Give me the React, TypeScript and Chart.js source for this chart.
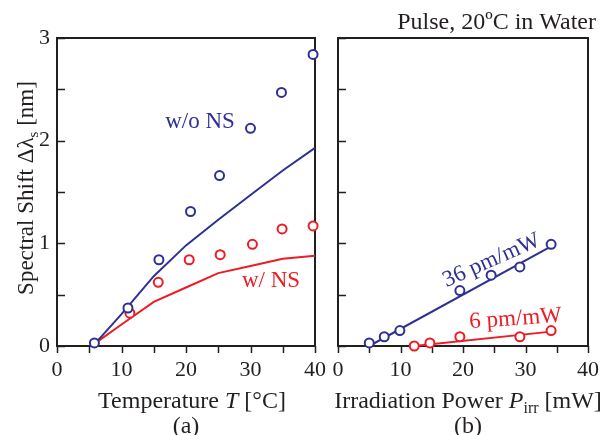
import React, { useEffect, useRef } from 'react';
import { Chart, registerables } from 'chart.js';

Chart.register(...registerables);

const BLUE = '#2E3192';
const RED = '#ED1C24';
const INK = '#231F20';
const FONT = '"Liberation Serif", "Times New Roman", serif';

// ---- Panel (a): spectral shift vs temperature ----
const tempWoNS_T = [5.8, 11.0, 15.8, 20.7, 25.2, 30.0, 34.8, 39.7];
const tempWoNS_shift = [0.03, 0.37, 0.84, 1.31, 1.66, 2.12, 2.47, 2.84];
const tempWNS_T = [11.3, 15.7, 20.5, 25.3, 30.3, 34.9, 39.7];
const tempWNS_shift = [0.32, 0.62, 0.84, 0.89, 0.99, 1.14, 1.17];
const simT = [6, 10, 15, 20, 25, 30, 35, 40];
const simWoNS = [0.03, 0.31, 0.68, 0.98, 1.23, 1.47, 1.71, 1.93];
const simWNS = [0.03, 0.21, 0.43, 0.57, 0.71, 0.78, 0.85, 0.88];

// ---- Panel (b): spectral shift vs irradiation power ----
const powWoNS_P = [5.0, 7.4, 9.9, 19.5, 24.5, 29.1, 34.1];
const powWoNS_shift = [0.03, 0.09, 0.15, 0.54, 0.69, 0.77, 0.99];
const powWNS_P = [12.2, 14.7, 19.5, 29.1, 34.1];
const powWNS_shift = [0.0, 0.03, 0.09, 0.09, 0.15];
const fitWoNS_P = [5.0, 34.1];
const fitWoNS = [0.0, 0.97];
const fitWNS_P = [12.2, 34.1];
const fitWNS = [0.0, 0.14];

// ---- Axes ----
const xMin = 0, xMax = 40, xLabelStep = 10, xMarkStep = 5;
const yMin = 0, yMax = 3, yLabelStep = 1, yMarkStep = 0.5;

const zip = (xs: number[], ys: number[]) => xs.map((x, i) => ({ x, y: ys[i] }));

type Part = { t: string; italic?: boolean; sub?: boolean };

function drawParts(ctx: CanvasRenderingContext2D, parts: Part[], x: number, y: number, size: number, color: string, align: 'left' | 'center' | 'right' = 'center') {
  const fontFor = (p: Part) => `${p.italic ? 'italic ' : ''}${p.sub ? Math.round(size * 0.65) : size}px ${FONT}`;
  let total = 0;
  for (const p of parts) { ctx.font = fontFor(p); total += ctx.measureText(p.t).width; }
  let cx = align === 'center' ? x - total / 2 : align === 'right' ? x - total : x;
  ctx.fillStyle = color;
  ctx.textBaseline = 'alphabetic';
  ctx.textAlign = 'left';
  for (const p of parts) {
    ctx.font = fontFor(p);
    ctx.fillText(p.t, cx, y + (p.sub ? size * 0.2 : 0));
    cx += ctx.measureText(p.t).width;
  }
}

function frameAndTicks(chart: any) {
  const ctx = chart.ctx as CanvasRenderingContext2D;
  const ca = chart.chartArea;
  const xs = chart.scales.x;
  const ys = chart.scales.y;
  ctx.save();
  ctx.strokeStyle = INK;
  ctx.lineWidth = 2;
  ctx.strokeRect(ca.left, ca.top, ca.right - ca.left, ca.bottom - ca.top);
  ctx.lineWidth = 1.5;
  ctx.beginPath();
  for (let v = yMin; v <= yMax + 1e-9; v += yMarkStep) {
    const py = Math.round(ys.getPixelForValue(v)) + 0.5;
    ctx.moveTo(ca.left, py);
    ctx.lineTo(ca.left + 8, py);
  }
  for (let v = xMin; v <= xMax + 1e-9; v += xMarkStep) {
    const px = Math.round(xs.getPixelForValue(v)) + 0.5;
    ctx.moveTo(px, ca.bottom);
    ctx.lineTo(px, ca.bottom + 7);
  }
  ctx.stroke();
  ctx.restore();
}

function makeOptions(showYLabels: boolean, padding: any, yWidth: number, extra: (chart: any) => void) {
  return {
    type: 'scatter' as const,
    options: {
      responsive: false,
      animation: false as const,
      layout: { padding },
      plugins: { legend: { display: false }, tooltip: { enabled: false } },
      scales: {
        x: {
          type: 'linear' as const,
          min: xMin,
          max: xMax,
          afterFit: (s: any) => { s.height = 50; },
          grid: { display: false, drawTicks: false },
          border: { display: false },
          ticks: {
            stepSize: xLabelStep,
            padding: 11,
            color: INK,
            font: { family: FONT, size: 22 },
            maxRotation: 0,
            autoSkip: false,
          },
        },
        y: {
          type: 'linear' as const,
          min: yMin,
          max: yMax,
          afterFit: (s: any) => { s.width = yWidth; },
          grid: { display: false, drawTicks: false },
          border: { display: false },
          ticks: {
            display: showYLabels,
            stepSize: yLabelStep,
            padding: 7,
            color: INK,
            font: { family: FONT, size: 22 },
          },
        },
      },
    },
    plugins: [
      {
        id: 'frameTicks',
        beforeDatasetsDraw: (chart: any) => frameAndTicks(chart),
        afterDraw: (chart: any) => extra(chart),
      },
    ],
  };
}

const circleDs = (data: any[], color: string) => ({
  data,
  showLine: false,
  pointRadius: 4.5,
  pointBorderWidth: 2,
  pointBorderColor: color,
  pointBackgroundColor: '#ffffff',
  order: 0,
  clip: false as const,
});
const lineDs = (data: any[], color: string) => ({
  data,
  showLine: true,
  borderColor: color,
  borderWidth: 2,
  pointRadius: 0,
  tension: 0,
  order: 1,
  clip: false as const,
});

export default function App() {
  const leftRef = useRef<HTMLCanvasElement | null>(null);
  const rightRef = useRef<HTMLCanvasElement | null>(null);

  useEffect(() => {
    const leftBase = makeOptions(true, { left: 0, top: 38, right: 295, bottom: 39 }, 57, (chart: any) => {
      const ctx = chart.ctx as CanvasRenderingContext2D;
      ctx.save();
      ctx.translate(33, 188);
      ctx.rotate(-Math.PI / 2);
      drawParts(ctx, [{ t: 'Spectral Shift Δλ' }, { t: 's', sub: true }, { t: ' [nm]' }], 0, 0, 23, INK);
      ctx.restore();
      ctx.save();
      drawParts(ctx, [{ t: 'Temperature ' }, { t: 'T', italic: true }, { t: ' [°C]' }], 192, 408, 24, INK);
      drawParts(ctx, [{ t: '(a)' }], 186, 433, 24, INK);
      drawParts(ctx, [{ t: 'w/o NS' }], 200, 128, 23, BLUE);
      drawParts(ctx, [{ t: 'w/ NS' }], 271, 287, 23, RED);
      ctx.restore();
    });
    const left = new Chart(leftRef.current as HTMLCanvasElement, {
      ...leftBase,
      data: {
        datasets: [
          circleDs(zip(tempWoNS_T, tempWoNS_shift), BLUE),
          circleDs(zip(tempWNS_T, tempWNS_shift), RED),
          lineDs(zip(simT, simWoNS), BLUE),
          lineDs(zip(simT, simWNS), RED),
        ],
      },
    } as any);

    const rightBase = makeOptions(false, { left: 328, top: 38, right: 14, bottom: 39 }, 10, (chart: any) => {
      const ctx = chart.ctx as CanvasRenderingContext2D;
      ctx.save();
      drawParts(ctx, [{ t: 'Pulse, 20ºC in Water' }], 596, 29, 24, INK, 'right');
      drawParts(ctx, [{ t: 'Irradiation Power ' }, { t: 'P', italic: true }, { t: 'irr', sub: true }, { t: ' [mW]' }], 468, 408, 24, INK);
      drawParts(ctx, [{ t: '(b)' }], 468, 433, 24, INK);
      ctx.restore();
      ctx.save();
      ctx.translate(494, 266);
      ctx.rotate((-24 * Math.PI) / 180);
      drawParts(ctx, [{ t: '36 pm/mW' }], 0, 0, 23, BLUE);
      ctx.restore();
      ctx.save();
      ctx.translate(516, 325);
      ctx.rotate((-4 * Math.PI) / 180);
      drawParts(ctx, [{ t: '6 pm/mW' }], 0, 0, 23, RED);
      ctx.restore();
    });
    const right = new Chart(rightRef.current as HTMLCanvasElement, {
      ...rightBase,
      data: {
        datasets: [
          circleDs(zip(powWoNS_P, powWoNS_shift), BLUE),
          circleDs(zip(powWNS_P, powWNS_shift), RED),
          lineDs(zip(fitWoNS_P, fitWoNS), BLUE),
          lineDs(zip(fitWNS_P, fitWNS), RED),
        ],
      },
    } as any);

    return () => {
      left.destroy();
      right.destroy();
    };
  }, []);

  const canvasStyle: React.CSSProperties = { position: 'absolute', left: 0, top: 0, width: 610, height: 435 };
  return (
    <div style={{ position: 'fixed', left: 0, top: 0, width: 610, height: 435, background: '#ffffff' }}>
      <canvas ref={leftRef} width={610} height={435} style={canvasStyle} />
      <canvas ref={rightRef} width={610} height={435} style={canvasStyle} />
    </div>
  );
}
